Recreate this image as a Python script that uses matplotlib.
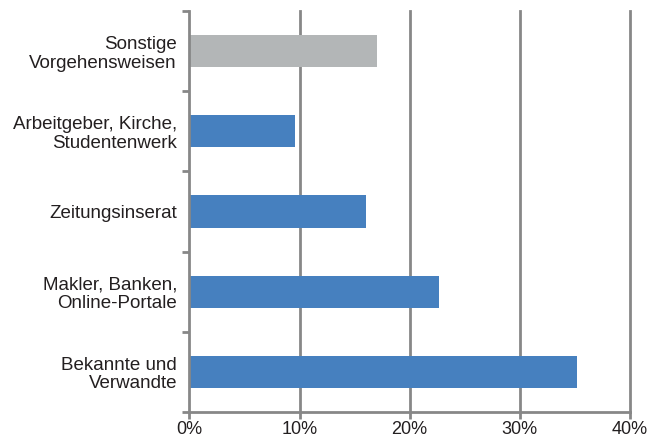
import matplotlib
matplotlib.use("Agg")
import matplotlib.pyplot as plt
from matplotlib.ticker import FixedLocator, NullFormatter

plt.rcParams['font.family'] = ['Liberation Sans', 'DejaVu Sans']

categories = ["Bekannte und\nVerwandte", "Makler, Banken,\nOnline-Portale", "Zeitungsinserat",
              "Arbeitgeber, Kirche,\nStudentenwerk", "Sonstige\nVorgehensweisen"]
values = [35.2, 22.7, 16.0, 9.6, 17.0]
colors = ["#4680BF", "#4680BF", "#4680BF", "#4680BF", "#B3B6B7"]
xticks = [0, 10, 20, 30, 40]
xticklabels = ["0%", "10%", "20%", "30%", "40%"]

fig = plt.figure(figsize=(6.5, 4.41), dpi=100)
ax = fig.add_axes([0.2915, 0.0658, 0.969 - 0.2915, 0.975 - 0.0658])

axis_gray = "#878787"
text_color = "#231f20"
ypos = list(range(len(categories)))
ax.barh(ypos, values, height=0.4, color=colors, zorder=3)

ax.set_xlim(0, 40)
ax.set_ylim(-0.5, len(categories) - 0.5)
ax.set_xticks(xticks)
ax.set_xticklabels(xticklabels, fontsize=13, color=text_color)
ax.set_yticks(ypos)
ax.set_yticklabels(categories, fontsize=13.5, color=text_color, linespacing=1.12)
ax.tick_params(axis='y', length=0, pad=9)
ax.yaxis.set_minor_locator(FixedLocator([i - 0.5 for i in range(len(categories) + 1)]))
ax.yaxis.set_minor_formatter(NullFormatter())
ax.tick_params(axis='y', which='minor', length=5, width=2, color=axis_gray)
ax.tick_params(axis='x', length=5, width=2, color=axis_gray, pad=1.5)

for x in xticks[1:]:
    ax.axvline(x, color=axis_gray, linewidth=2, zorder=1, clip_on=False)

for side in ("top", "right"):
    ax.spines[side].set_visible(False)
for side in ("left", "bottom"):
    ax.spines[side].set_color(axis_gray)
    ax.spines[side].set_linewidth(2)
    ax.spines[side].set_zorder(4)

fig.savefig("out.png", dpi=100)
